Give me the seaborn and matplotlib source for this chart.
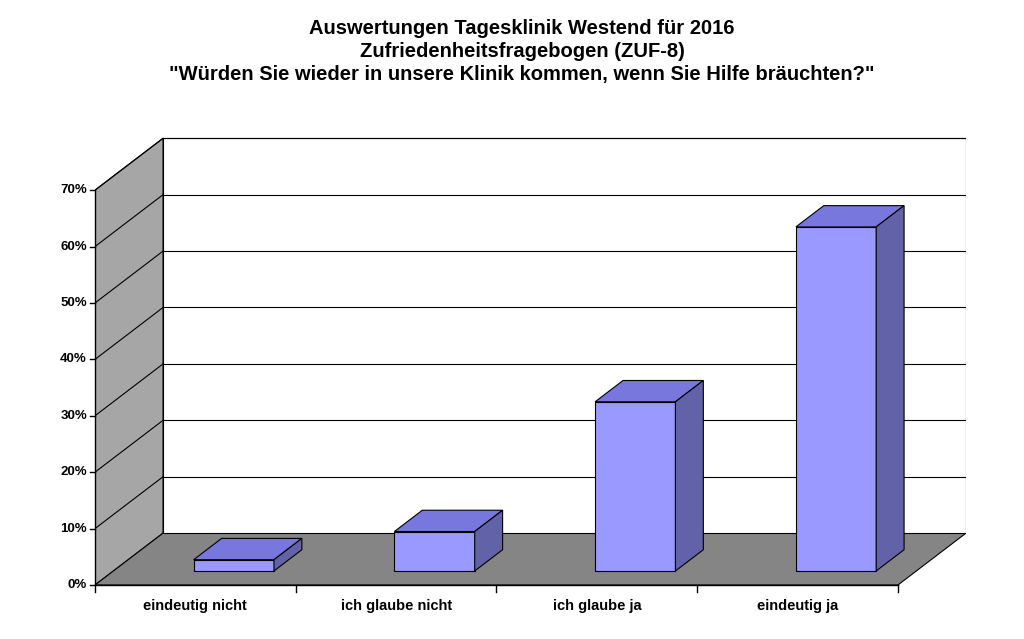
import matplotlib
matplotlib.use("Agg")
import matplotlib.pyplot as plt
import seaborn as sns
import pandas as pd
from matplotlib.patches import Polygon

categories = ["eindeutig nicht", "ich glaube nicht", "ich glaube ja", "eindeutig ja"]
values = [2, 7, 30, 61]
yticks = [0, 10, 20, 30, 40, 50, 60, 70]
ytick_labels = ["0%", "10%", "20%", "30%", "40%", "50%", "60%", "70%"]
title = ("Auswertungen Tagesklinik Westend für 2016\nZufriedenheitsfragebogen (ZUF-8)\n"
         "\"Würden Sie wieder in unsere Klinik kommen, wenn Sie Hilfe bräuchten?\"")

plt.rcParams["font.family"] = "Liberation Sans"
fig = plt.figure(figsize=(10.24, 6.39), dpi=100)
ax = fig.add_axes([95/1024, 1-585/639, 871/1024, 449/639])
DX, DY = 0.339, 9.2
x0, x1, ytop = -0.5, 3.5, 70

# walls
ax.add_patch(Polygon([(x0, 0), (x0, ytop), (x0+DX, ytop+DY), (x0+DX, DY)], closed=True,
                     fc="#A6A6A6", ec="black", lw=0.8, zorder=0))
ax.add_patch(Polygon([(x0, 0), (x1, 0), (x1+DX, DY), (x0+DX, DY)], closed=True,
                     fc="#858585", ec="black", lw=0.8, zorder=0))
ax.add_patch(Polygon([(x0+DX, DY), (x1+DX, DY), (x1+DX, ytop+DY), (x0+DX, ytop+DY)], closed=True,
                     fc="white", ec="black", lw=0.8, zorder=0))
for v in yticks[1:]:
    ax.plot([x0+DX, x1+DX], [v+DY, v+DY], color="black", lw=0.8, zorder=0.5)
    ax.plot([x0, x0+DX], [v, v+DY], color="black", lw=0.8, zorder=0.5)

df = pd.DataFrame({"cat": categories, "val": values})
sns.barplot(data=df, x="cat", y="val", color="#9999FF", saturation=1, width=0.4,
            edgecolor="black", linewidth=0.8, ax=ax, zorder=2)
f0, f1 = 0.27, 0.41
for p in ax.patches:
    if not hasattr(p, "get_width"):
        continue
    p.set_x(p.get_x() + 0.1 + f0*DX)
    p.set_y(p.get_y() + f0*DY)
    x, y, w, h = p.get_x(), p.get_y(), p.get_width(), p.get_height()
    dx, dy = f1*DX, f1*DY
    ax.add_patch(Polygon([(x, y+h), (x+w, y+h), (x+w+dx, y+h+dy), (x+dx, y+h+dy)], closed=True,
                         fc="#7777DD", ec="black", lw=0.8, zorder=2))
    ax.add_patch(Polygon([(x+w, y), (x+w, y+h), (x+w+dx, y+h+dy), (x+w+dx, y+dy)], closed=True,
                         fc="#6262A8", ec="black", lw=0.8, zorder=2))

ax.set_xlim(x0, x1+DX)
ax.set_ylim(0, ytop+DY+0.4)
for s in ax.spines.values():
    s.set_visible(False)
ax.set_xticks([])
ax.set_yticks([])
ax.set_xlabel("")
ax.set_ylabel("")
ax.plot([x0, x0], [0, ytop], color="black", lw=1, clip_on=False)
ax.plot([x0, x1], [0, 0], color="black", lw=1, clip_on=False)
for v, lab in zip(yticks, ytick_labels):
    ax.plot([x0-0.025, x0], [v, v], color="black", lw=1, clip_on=False)
    ax.text(x0-0.04, v, lab, ha="right", va="center", fontsize=9.5, fontweight="bold")
for i, c in enumerate(categories):
    ax.text(i, -2.5, c, ha="center", va="top", fontsize=10.5, fontweight="bold")
for b in [x0, 0.5, 1.5, 2.5, x1]:
    ax.plot([b, b], [0, -1.2], color="black", lw=1, clip_on=False)

fig.text(0.51, 0.97, title, ha="center", va="top", fontsize=14.5, fontweight="bold",
         linespacing=1.25)
fig.savefig("out.png", dpi=100)
